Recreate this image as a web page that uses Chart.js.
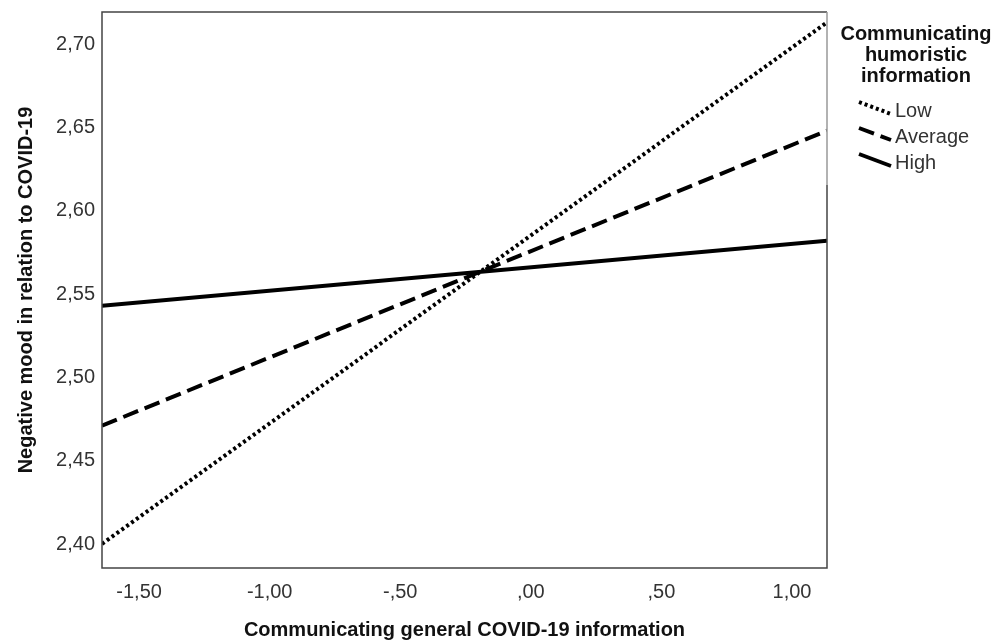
<!DOCTYPE html>
<html>
<head>
<meta charset="utf-8">
<script src="https://cdn.jsdelivr.net/npm/chart.js@4"></script>
<style>
  html, body { margin: 0; padding: 0; background: #fff; }
  #wrap { width: 1006px; height: 642px; }
</style>
</head>
<body>
<div id="wrap"><canvas id="chart" width="1006" height="642"></canvas></div>
<script>
// x range of the predictor, end points of each line
const xRange = [-1.642, 1.134];
const lowValues = [2.400, 2.713];
const averageValues = [2.471, 2.648];
const highValues = [2.543, 2.582];
const seriesNames = ['Low', 'Average', 'High'];
const xTicks = [-1.5, -1.0, -0.5, 0, 0.5, 1.0];
const yTicks = [2.40, 2.45, 2.50, 2.55, 2.60, 2.65, 2.70];

const FONT = '"Liberation Sans", Arial, sans-serif';

// SPSS style labels: comma decimal, no leading zero
function spss(v) {
  let s = Math.abs(v).toFixed(2).replace('.', ',');
  if (s.startsWith('0')) s = s.slice(1);
  return (v < 0 ? '-' : '') + s;
}

function toPoints(vals) {
  return vals.map((y, i) => ({ x: xRange[i], y: y }));
}

const frame = {
  id: 'frame',
  afterDatasetsDraw(chart) {
    const a = chart.chartArea;
    const ctx = chart.ctx;
    ctx.save();
    ctx.lineWidth = 1.5;
    ctx.strokeStyle = '#444';
    ctx.beginPath();
    ctx.moveTo(a.right, a.top);
    ctx.lineTo(a.left, a.top);
    ctx.lineTo(a.left, a.bottom);
    ctx.lineTo(a.right, a.bottom);
    ctx.lineTo(a.right, 185);
    ctx.stroke();
    // upper part of the right edge is lighter in the original
    ctx.strokeStyle = '#999';
    ctx.beginPath();
    ctx.moveTo(a.right, a.top);
    ctx.lineTo(a.right, 185);
    ctx.stroke();
    ctx.restore();
  }
};

const sideLegend = {
  id: 'sideLegend',
  afterDraw(chart) {
    const ctx = chart.ctx;
    ctx.save();
    ctx.fillStyle = '#111';
    ctx.font = 'bold 20px ' + FONT;
    ctx.textAlign = 'center';
    ctx.textBaseline = 'middle';
    ['Communicating', 'humoristic', 'information'].forEach((t, i) => {
      ctx.fillText(t, 916, 34 + i * 21);
    });
    ctx.font = '20px ' + FONT;
    ctx.textAlign = 'left';
    chart.data.datasets.forEach((ds, i) => {
      const cy = 109 + i * 26;
      ctx.strokeStyle = '#000';
      ctx.lineWidth = ds.borderWidth;
      ctx.setLineDash(ds.borderDash || []);
      ctx.beginPath();
      ctx.moveTo(859, cy - 7);
      ctx.lineTo(891, cy + 5);
      ctx.stroke();
      ctx.setLineDash([]);
      ctx.fillStyle = '#333';
      ctx.fillText(ds.label, 895, cy + 2);
    });
    ctx.restore();
  }
};

new Chart(document.getElementById('chart'), {
  type: 'scatter',
  data: {
    datasets: [
      { label: seriesNames[0], data: toPoints(lowValues), showLine: true, borderColor: '#000',
        borderWidth: 4, borderDash: [3, 3], pointRadius: 0 },
      { label: seriesNames[1], data: toPoints(averageValues), showLine: true, borderColor: '#000',
        borderWidth: 4, borderDash: [16, 7], pointRadius: 0 },
      { label: seriesNames[2], data: toPoints(highValues), showLine: true, borderColor: '#000',
        borderWidth: 4, pointRadius: 0 }
    ]
  },
  options: {
    responsive: false,
    animation: false,
    layout: { padding: { left: 0, top: 12, right: 179, bottom: 0 } },
    plugins: { legend: { display: false }, tooltip: { enabled: false } },
    scales: {
      x: {
        type: 'linear',
        min: xRange[0],
        max: xRange[1],
        grid: { display: false, drawTicks: false },
        border: { display: false },
        afterBuildTicks: (s) => { s.ticks = xTicks.map(v => ({ value: v })); },
        afterFit: (s) => { s.height = 74; s.paddingLeft = 0; s.paddingRight = 0; },
        ticks: { color: '#333', font: { family: FONT, size: 20 }, padding: 12, maxRotation: 0,
          callback: (v) => spss(v) },
        title: { display: true, text: 'Communicating general COVID-19 information', color: '#111',
          font: { family: FONT, size: 20, weight: 'bold' }, padding: { top: 0, bottom: 0 } }
      },
      y: {
        min: 2.3856,
        max: 2.7192,
        grid: { display: false, drawTicks: false },
        border: { display: false },
        afterBuildTicks: (s) => { s.ticks = yTicks.map(v => ({ value: v })); },
        afterFit: (s) => { s.width = 102; s.paddingTop = 0; s.paddingBottom = 0; },
        ticks: { color: '#333', font: { family: FONT, size: 20 }, padding: 7,
          callback: (v) => spss(v) },
        title: { display: true, text: 'Negative mood in relation to COVID-19', color: '#111',
          font: { family: FONT, size: 20, weight: 'bold' }, padding: { top: 14, bottom: 0 } }
      }
    }
  },
  plugins: [frame, sideLegend]
});
</script>
</body>
</html>
